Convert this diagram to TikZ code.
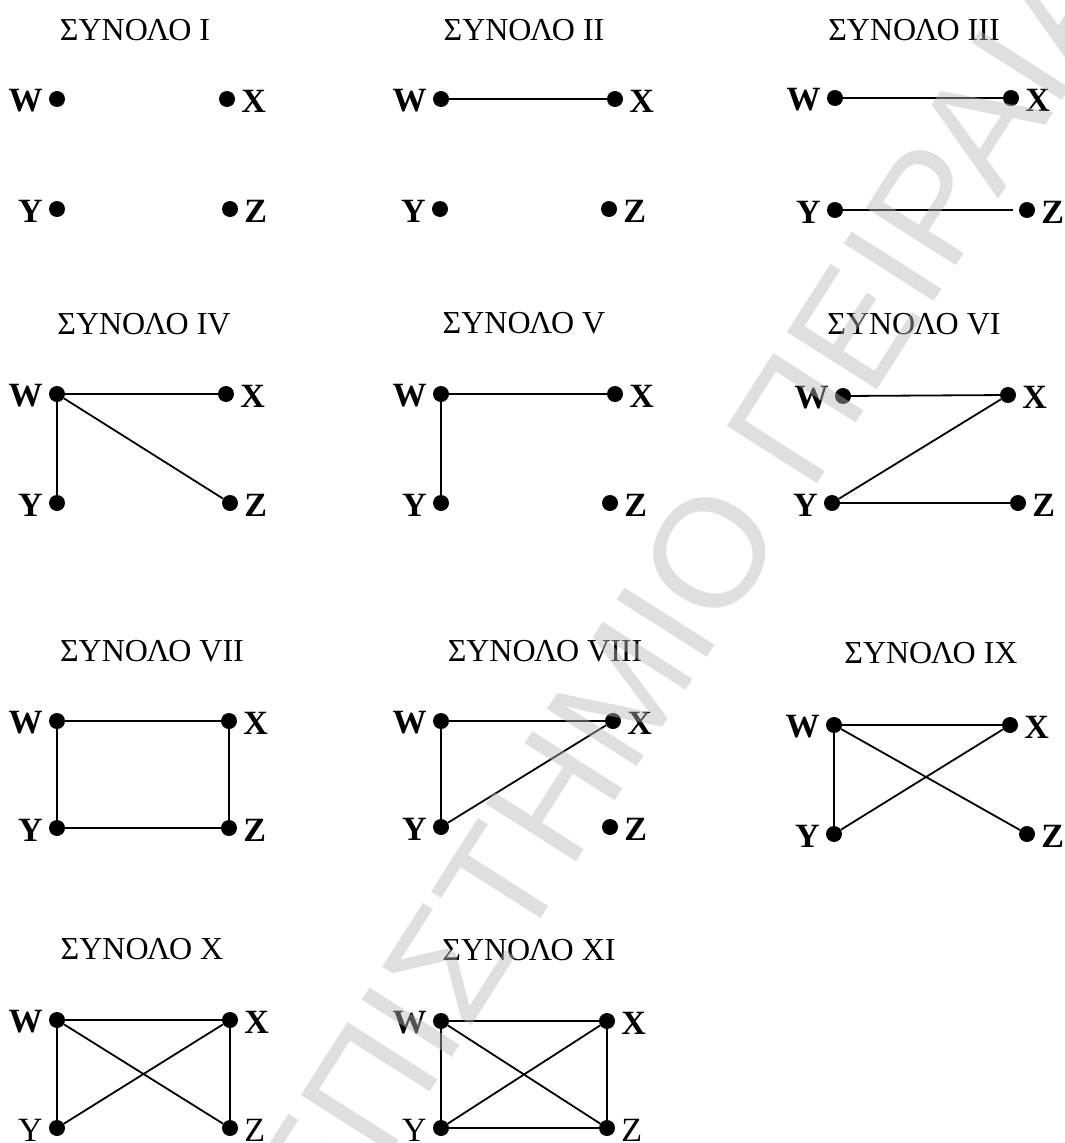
\documentclass[tikz,border=0pt]{standalone}
\usepackage{fontspec}
\setmainfont{Liberation Serif}
\newfontfamily\wmfont{Liberation Sans}
\definecolor{wmgray}{RGB}{184,184,184}
\begin{document}
\begin{tikzpicture}[x=1pt,y=-1pt, label distance=6pt,
  dot/.style={circle, fill=black, inner sep=0pt, minimum size=16pt},
  lb/.style={font=\fontsize{34}{34}\selectfont\bfseries, inner sep=0pt, yshift=-2pt},
  lr/.style={font=\fontsize{34}{34}\selectfont, inner sep=0pt, yshift=-2pt},
  ttl/.style={font=\fontsize{32}{32}\selectfont, inner sep=0pt},
  edge/.style={line width=1.8pt},
  wm/.style={font=\wmfont\fontsize{155}{155}\selectfont, text=wmgray, text opacity=0.44, inner sep=0pt}]
\useasboundingbox (0,0) rectangle (1065,1143);
\fill[white] (0,0) rectangle (1065,1143);

% I
\node[ttl] (t1) at (135,30) {ΣΥΝΟΛΟ I};
\node[dot, label={[lb]left:W}]  (W1) at (57,99) {};
\node[dot, label={[lb]right:X}] (X1) at (227,99) {};
\node[dot, label={[lb]left:Y}]  (Y1) at (57,209) {};
\node[dot, label={[lb]right:Z}] (Z1) at (230,209) {};

% II
\node[ttl] (t2) at (524,30) {ΣΥΝΟΛΟ II};
\node[dot, label={[lb]left:W}]  (W2) at (441,99) {};
\node[dot, label={[lb]right:X}] (X2) at (615,99) {};
\node[dot, label={[lb]left:Y}]  (Y2) at (440,209) {};
\node[dot, label={[lb]right:Z}] (Z2) at (609,209) {};
\draw[edge] (W2) -- (X2);

% III
\node[ttl] (t3) at (914,30) {ΣΥΝΟΛΟ III};
\node[dot, label={[lb]left:W}]  (W3) at (835,98) {};
\node[dot, label={[lb]right:X}] (X3) at (1011,98) {};
\node[dot, label={[lb]left:Y}]  (Y3) at (835,210) {};
\node[dot, label={[lb]right:Z}] (Z3) at (1027,210) {};
\draw[edge] (W3) -- (X3);
\draw[edge, shorten >=6pt] (Y3) -- (Z3);

% IV
\node[ttl] (t4) at (144,324) {ΣΥΝΟΛΟ IV};
\node[dot, label={[lb]left:W}]  (W4) at (57,394) {};
\node[dot, label={[lb]right:X}] (X4) at (226,394) {};
\node[dot, label={[lb]left:Y}]  (Y4) at (57,503) {};
\node[dot, label={[lb]right:Z}] (Z4) at (230,503) {};
\draw[edge] (W4) -- (X4);
\draw[edge] (W4) -- (Y4);
\draw[edge] (W4) -- (Z4);

% V
\node[ttl] (t5) at (524,323) {ΣΥΝΟΛΟ V};
\node[dot, label={[lb]left:W}]  (W5) at (441,394) {};
\node[dot, label={[lb]right:X}] (X5) at (615,394) {};
\node[dot, label={[lb]left:Y}]  (Y5) at (441,503) {};
\node[dot, label={[lb]right:Z}] (Z5) at (610,503) {};
\draw[edge] (W5) -- (X5);
\draw[edge] (W5) -- (Y5);

% VI
\node[ttl] (t6) at (914,324) {ΣΥΝΟΛΟ VI};
\node[dot, label={[lb]left:W}]  (W6) at (843,396) {};
\node[dot, label={[lb]right:X}] (X6) at (1008,395) {};
\node[dot, label={[lb]left:Y}]  (Y6) at (832,503) {};
\node[dot, label={[lb]right:Z}] (Z6) at (1018,503) {};
\draw[edge] (W6) -- (X6);
\draw[edge] (X6) -- (Y6);
\draw[edge] (Y6) -- (Z6);

% VII
\node[ttl] (t7) at (152,651) {ΣΥΝΟΛΟ VII};
\node[dot, label={[lb]left:W}]  (W7) at (57,721) {};
\node[dot, label={[lb]right:X}] (X7) at (229,721) {};
\node[dot, label={[lb]left:Y}]  (Y7) at (57,828) {};
\node[dot, label={[lb]right:Z}] (Z7) at (229,828) {};
\draw[edge] (W7) -- (X7);
\draw[edge] (X7) -- (Z7);
\draw[edge] (Z7) -- (Y7);
\draw[edge] (Y7) -- (W7);

% VIII
\node[ttl] (t8) at (545,651) {ΣΥΝΟΛΟ VIII};
\node[dot, label={[lb]left:W}]  (W8) at (441,721) {};
\node[dot, label={[lb]right:X}] (X8) at (613,721) {};
\node[dot, label={[lb]left:Y}]  (Y8) at (441,827) {};
\node[dot, label={[lb]right:Z}] (Z8) at (610,827) {};
\draw[edge] (W8) -- (X8);
\draw[edge] (W8) -- (Y8);
\draw[edge] (Y8) -- (X8);

% IX
\node[ttl] (t9) at (931,653) {ΣΥΝΟΛΟ IX};
\node[dot, label={[lb]left:W}]  (W9) at (834,725) {};
\node[dot, label={[lb]right:X}] (X9) at (1010,725) {};
\node[dot, label={[lb]left:Y}]  (Y9) at (834,834) {};
\node[dot, label={[lb]right:Z}] (Z9) at (1027,834) {};
\draw[edge] (W9) -- (X9);
\draw[edge] (W9) -- (Y9);
\draw[edge] (W9) -- (Z9);
\draw[edge] (Y9) -- (X9);

% X
\node[ttl] (t10) at (142,949) {ΣΥΝΟΛΟ X};
\node[dot, label={[lb]left:W}]  (W10) at (57,1020) {};
\node[dot, label={[lb]right:X}] (X10) at (230,1020) {};
\node[dot, label={[lr]left:Y}]  (Y10) at (57,1128) {};
\node[dot, label={[lr]right:Z}] (Z10) at (230,1128) {};
\draw[edge] (W10) -- (X10);
\draw[edge] (W10) -- (Y10);
\draw[edge] (W10) -- (Z10);
\draw[edge] (Y10) -- (X10);
\draw[edge] (X10) -- (Z10);

% XI
\node[ttl] (t11) at (529,950) {ΣΥΝΟΛΟ XI};
\node[dot, label={[lb]left:W}]  (W11) at (441,1021) {};
\node[dot, label={[lb]right:X}] (X11) at (607,1021) {};
\node[dot, label={[lr]left:Y}]  (Y11) at (441,1128) {};
\node[dot, label={[lr]right:Z}] (Z11) at (607,1128) {};
\draw[edge] (W11) -- (X11);
\draw[edge] (W11) -- (Y11);
\draw[edge] (W11) -- (Z11);
\draw[edge] (Y11) -- (X11);
\draw[edge] (X11) -- (Z11);
\draw[edge] (Y11) -- (Z11);

% watermark
\begin{scope}
\clip (0,0) rectangle (1065,1143);
\node[wm, rotate=57.5] (wmark) at (598,729) {ΠΑΝΕΠΙΣΤΗΜΙΟ ΠΕΙΡΑΙΑ};
\end{scope}
\end{tikzpicture}
\end{document}
